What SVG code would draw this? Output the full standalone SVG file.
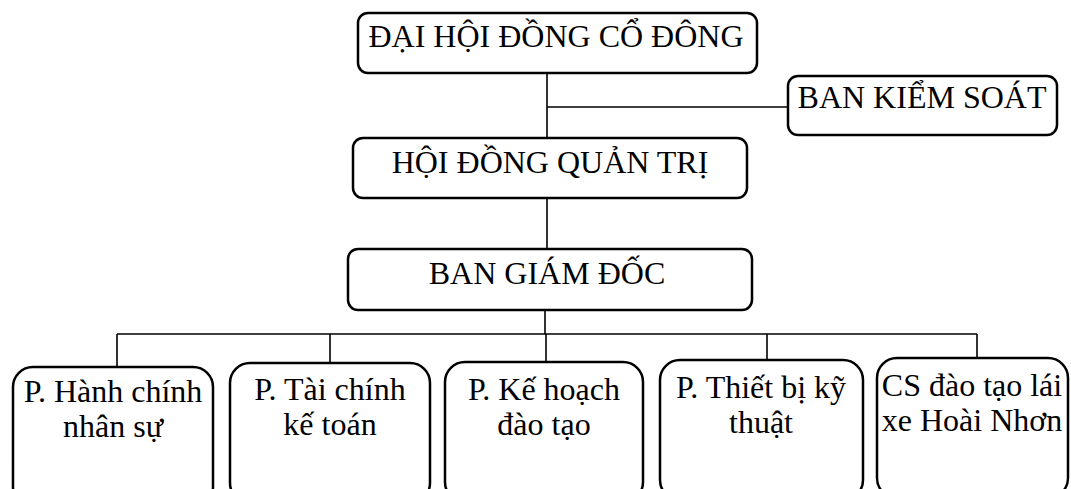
<svg xmlns="http://www.w3.org/2000/svg" width="1071" height="489" viewBox="0 0 1071 489">
<style>
.box{fill:#fff;stroke:#000;stroke-width:2.5}
.ln{stroke:#000;stroke-width:1.6;fill:none}
text{font-family:"Liberation Serif","Times New Roman",serif;font-size:32px;fill:#000;text-anchor:middle}
</style>
<rect width="1071" height="489" fill="#fff"/>
<g id="connectors">
<path class="ln" d="M547 73V138M547 107H788M547 198V249M545 310V334M117 334H977M117 334V367M330 334V363M546 334V362M767 334V360M977 334V358"/>
</g>
<g id="dhdcd"><rect class="box" x="358" y="13" width="399" height="60" rx="10"/><text x="556" y="47">ĐẠI HỘI ĐỒNG CỔ ĐÔNG</text></g>
<g id="bks"><rect class="box" x="788" y="76" width="269" height="59" rx="10"/><text x="922" y="108">BAN KIỂM SOÁT</text></g>
<g id="hdqt"><rect class="box" x="353" y="138" width="394" height="60" rx="10"/><text x="550" y="173">HỘI ĐỒNG QUẢN TRỊ</text></g>
<g id="bgd"><rect class="box" x="348" y="249" width="404" height="61" rx="10"/><text x="547" y="284">BAN GIÁM ĐỐC</text></g>
<g id="p1"><rect class="box" x="13" y="367" width="200" height="140" rx="20"/><text x="113" y="402">P. Hành chính</text><text x="113" y="437">nhân sự</text></g>
<g id="p2"><rect class="box" x="230" y="363" width="200" height="140" rx="20"/><text x="330" y="400">P. Tài chính</text><text x="330" y="435">kế toán</text></g>
<g id="p3"><rect class="box" x="445" y="362" width="198" height="140" rx="20"/><text x="544" y="400">P. Kế hoạch</text><text x="544" y="435">đào tạo</text></g>
<g id="p4"><rect class="box" x="660" y="360" width="203" height="140" rx="20"/><text x="761" y="398">P. Thiết bị kỹ</text><text x="761" y="433">thuật</text></g>
<g id="p5"><rect class="box" x="877" y="358" width="191" height="140" rx="20"/><text x="972" y="396">CS đào tạo lái</text><text x="972" y="431">xe Hoài Nhơn</text></g>
</svg>
